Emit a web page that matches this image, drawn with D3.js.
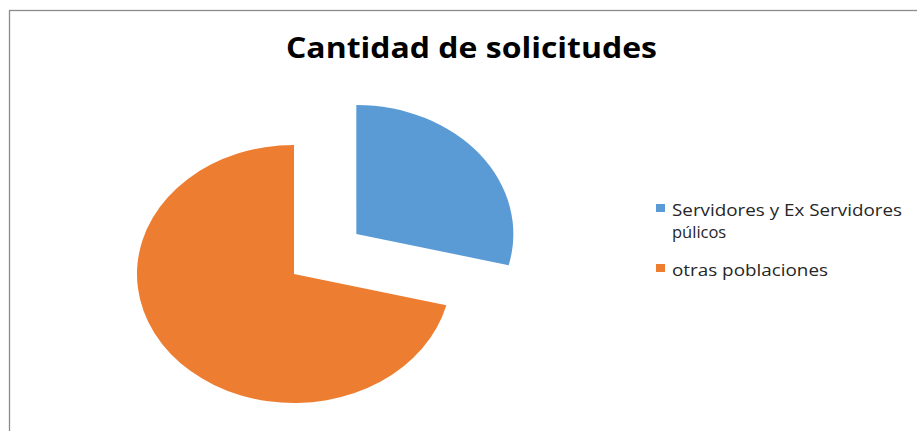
<!DOCTYPE html>
<html><head><meta charset="utf-8">
<script src="https://cdn.jsdelivr.net/npm/d3@7"></script>
<style>body{margin:0;background:#fff}svg{display:block}</style>
</head><body>
<svg id="c" width="917" height="431"></svg>
<script>
const title = "Cantidad de solicitudes";
const categories = ["Servidores y Ex Servidores púlicos", "otras poblaciones"];
const legendLines = [["Servidores y Ex Servidores", "púlicos"], ["otras poblaciones"]];
const values = [13, 32];
const colors = ["#5B9BD5", "#ED7D31"];

const svg = d3.select("#c");
svg.append("rect").attr("x", 9.5).attr("y", 10.5).attr("width", 1000).attr("height", 1000)
  .attr("fill", "#fff").attr("stroke", "#8c8c8c").attr("stroke-width", 1.3);

svg.append("text").attr("x", 286).attr("y", 58).text(title)
  .attr("font-family", "Open Sans, sans-serif").attr("font-weight", "bold")
  .attr("font-size", 29).attr("textLength", 371).attr("lengthAdjust", "spacingAndGlyphs")
  .attr("fill", "#000");

const ry = 129, rx = 157;
const pie = d3.pie().sort(null).value(d => d)(values);
const arc = d3.arc().innerRadius(0).outerRadius(ry);
const g = svg.append("g").attr("transform", `translate(294,274) scale(${rx/ry},1)`);
const explode = [65, 0];
g.selectAll("path").data(pie).join("path")
  .attr("d", arc)
  .attr("fill", (d, i) => colors[i])
  .attr("transform", (d, i) => {
    const m = (d.startAngle + d.endAngle) / 2;
    return `translate(${explode[i] * Math.sin(m)},${-explode[i] * Math.cos(m)})`;
  });

const legendY = [204, 264];
const lg = svg.append("g");
categories.forEach((c, i) => {
  lg.append("rect").attr("x", 656).attr("y", legendY[i]).attr("width", 9).attr("height", 8).attr("fill", colors[i]);
  legendLines[i].forEach((t, j) => {
    const tx = lg.append("text").attr("x", 672).attr("y", legendY[i] + 12 + j * 22).text(t)
      .attr("font-family", "Open Sans, sans-serif").attr("font-size", 16.5).attr("fill", "#262626");
    if (j === 0 && i === 0) tx.attr("textLength", 230).attr("lengthAdjust", "spacingAndGlyphs");
    if (i === 1) tx.attr("textLength", 156).attr("lengthAdjust", "spacingAndGlyphs");
  });
});
</script>
</body></html>
